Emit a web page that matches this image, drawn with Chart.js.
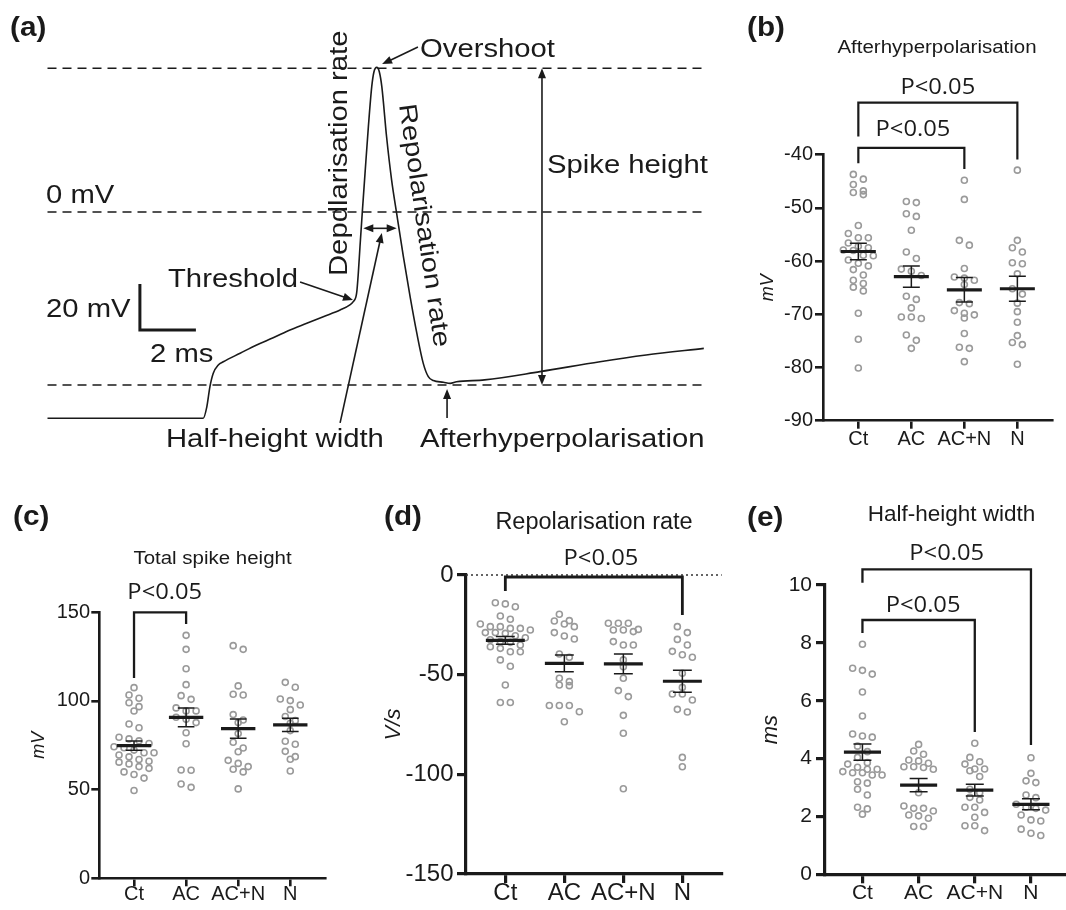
<!DOCTYPE html>
<html>
<head>
<meta charset="utf-8">
<script src="https://cdn.jsdelivr.net/npm/chart.js@4/dist/chart.umd.min.js"></script>
<style>
html, body { margin: 0; padding: 0; background: #fff; overflow: hidden; width: 1066px; height: 910px; }
.panel { position: absolute; }
canvas { display: block; }
</style>
</head>
<body>
<div class="panel" style="left:0;top:0"><canvas id="ca" width="730" height="460"></canvas></div>
<div class="panel" style="left:740px;top:0"><canvas id="cb" width="326" height="460"></canvas></div>
<div class="panel" style="left:0;top:490px"><canvas id="cc" width="380" height="420"></canvas></div>
<div class="panel" style="left:380px;top:490px"><canvas id="cd" width="360" height="420"></canvas></div>
<div class="panel" style="left:740px;top:490px"><canvas id="ce" width="333" height="420"></canvas></div>
<script>
const groups = ["Ct", "AC", "AC+N", "N"];

// (a) example spike, time in ms, membrane potential in mV
const traceMs = [0, 5.56, 5.69, 5.80, 5.92, 6.10, 6.28, 6.88, 7.47, 8.06, 8.66, 9.26, 9.85, 10.45, 10.80, 10.92,
  11.04, 11.10, 11.16, 11.24, 11.34, 11.46, 11.58, 11.66, 11.76, 11.85, 11.94, 12.11, 12.29, 12.47, 12.71, 12.95,
  13.19, 13.42, 13.60, 13.78, 14.14, 14.38, 14.61, 15.61, 17.59, 19.73, 21.38, 23.44];
const traceMv = [-89.7, -89.7, -84.7, -76.0, -70.1, -66.5, -65.1, -61.4, -57.8, -54.7, -51.3, -48.4, -45.5, -42.6, -40.4, -39.0,
  -35.3, -26.7, -15.1, -0.6, 16.8, 37.1, 54.5, 61.0, 62.9, 61.0, 54.5, 32.7, 13.9, -0.6, -19.4, -36.8,
  -52.7, -65.8, -71.6, -73.3, -74.0, -74.5, -73.8, -73.0, -69.4, -65.1, -62.2, -59.3];
const levelsMv = [62.5, 0, -75.2];          // overshoot, 0 mV, afterhyperpolarisation
const scaleBar = { ms: 2, mv: 20, x: 3.3, y: -51.3 };

// (b) afterhyperpolarisation, mV
const ahpCt = [-43.7, -44.6, -45.6, -46.8, -47.1, -47.5, -53.3, -54.8, -55.6, -55.6, -56.6, -57.2, -57.5, -57.9, -58.0,
  -58.9, -59.0, -59.8, -60.4, -60.9, -61.6, -62.6, -63.6, -64.2, -64.9, -65.6, -69.8, -74.7, -80.1];
const ahpAC = [-48.8, -49.0, -51.1, -51.6, -54.2, -58.3, -59.5, -61.5, -61.9, -62.7, -66.6, -67.2, -68.8, -70.5, -70.5,
  -70.8, -73.9, -74.9, -76.4];
const ahpACN = [-44.8, -48.4, -56.1, -57.0, -61.4, -63.0, -63.2, -63.6, -64.4, -67.8, -68.0, -69.3, -69.8, -70.1, -70.7,
  -73.6, -76.2, -76.4, -78.9];
const ahpN = [-42.9, -56.1, -57.5, -58.3, -60.3, -60.5, -62.4, -65.2, -66.2, -67.9, -69.5, -71.5, -74.0, -75.3, -75.7, -79.4];
const ahpMean = [-58.2, -62.9, -65.4, -65.2];
const ahpSem = [1.55, 2.0, 2.3, 2.35];
const ahpTicks = [-90, -80, -70, -60, -50, -40];

// (c) total spike height, mV
const htCt = [107.5, 103.4, 101.5, 99.0, 96.8, 94.3, 87.0, 84.9, 79.5, 78.6, 77.5, 76.0, 74.2, 73.6, 72.3, 70.8, 70.8,
  69.5, 68.5, 67.0, 66.0, 65.5, 64.5, 63.0, 62.0, 60.0, 58.5, 56.5, 49.5];
const htAC = [137.0, 129.1, 118.2, 109.2, 103.0, 100.9, 96.1, 94.4, 94.4, 90.8, 89.7, 87.8, 82.1, 75.9, 61.1, 60.9, 53.2, 51.3];
const htACN = [131.2, 129.1, 108.5, 103.8, 103.4, 92.3, 89.3, 87.8, 81.6, 76.7, 73.5, 71.4, 66.5, 64.8, 63.0, 61.5, 60.0, 50.4];
const htN = [110.5, 107.7, 101.1, 100.2, 97.7, 95.1, 91.2, 88.9, 87.4, 83.3, 77.3, 75.6, 71.6, 68.6, 67.1, 60.5];
const htMean = [74.8, 90.8, 84.4, 86.5];
const htSem = [2.65, 5.3, 5.4, 3.7];
const htTicks = [0, 50, 100, 150];

// (d) repolarisation rate, V/s
const repCt = [-13.9, -14.5, -15.9, -20.6, -22.2, -24.6, -25.9, -25.9, -26.8, -26.8, -27.6, -28.9, -28.9, -29.3, -30.5,
  -31.5, -32.5, -33.4, -33.8, -35.1, -36.0, -36.8, -38.5, -38.5, -42.6, -45.8, -55.2, -64.0, -64.0];
const repAC = [-19.7, -22.9, -23.1, -24.6, -25.9, -28.9, -30.6, -32.1, -39.6, -41.3, -51.8, -53.5, -55.2, -55.5, -65.5,
  -65.5, -65.5, -68.6, -73.6];
const repACN = [-24.2, -24.2, -24.2, -27.3, -27.6, -27.6, -28.4, -33.4, -35.1, -35.1, -42.6, -46.0, -51.8, -58.0, -61.0,
  -70.4, -79.4, -107.2];
const repN = [-25.9, -28.9, -32.3, -35.1, -38.3, -40.0, -41.3, -49.3, -56.4, -59.7, -59.7, -62.7, -67.4, -68.7, -91.5, -96.2];
const repMean = [-32.8, -44.3, -44.6, -53.3];
const repSem = [1.9, 4.2, 5.0, 5.5];
const repTicks = [-150, -100, -50, 0];

// (e) half-height width, ms
const hwCt = [7.95, 7.12, 7.05, 6.92, 6.30, 5.47, 4.85, 4.78, 4.74, 4.43, 4.24, 4.04, 3.86, 3.81, 3.70, 3.63, 3.63,
  3.55, 3.51, 3.51, 3.43, 3.43, 3.20, 3.15, 2.94, 2.74, 2.32, 2.26, 2.08];
const hwAC = [4.49, 4.26, 4.15, 3.95, 3.92, 3.84, 3.72, 3.72, 3.69, 3.63, 2.82, 2.36, 2.28, 2.28, 2.19, 2.05, 2.02, 1.94, 1.65, 1.65];
const hwACN = [4.53, 4.04, 3.89, 3.81, 3.64, 3.64, 3.58, 3.38, 2.94, 2.82, 2.66, 2.57, 2.32, 2.32, 2.14, 1.97, 1.68, 1.68, 1.51];
const hwN = [4.03, 3.49, 3.23, 3.17, 2.74, 2.65, 2.42, 2.32, 2.28, 2.22, 2.05, 1.88, 1.84, 1.56, 1.42, 1.34];
const hwMean = [4.22, 3.08, 2.91, 2.42];
const hwSem = [0.28, 0.23, 0.2, 0.19];
const hwTicks = [0, 2, 4, 6, 8, 10];

const INK = "#1a1a1a";
const DOT = "#9a9a9a";
const SANS = '"Liberation Sans", Arial, sans-serif';
const PFONT = '"Open Sans", sans-serif';
const BOLD = "bold 27px " + SANS;

function drawText(ctx, o, ox, oy) {
    ctx.save();
    ctx.font = o.font || "25px " + SANS;
    ctx.fillStyle = INK;
    ctx.textAlign = o.align || "left";
    ctx.textBaseline = o.base || "alphabetic";
    ctx.translate(o.x - ox, o.y - oy);
    if (o.rot) ctx.rotate(o.rot);
    ctx.scale(o.sx || 1, 1);
    ctx.fillText(o.t, 0, 0);
    ctx.restore();
}

function head(ctx, fx, fy, tx, ty) {
    const a = Math.atan2(ty - fy, tx - fx), L = 10, W = 4;
    ctx.beginPath();
    ctx.moveTo(tx, ty);
    ctx.lineTo(tx - L * Math.cos(a) + W * Math.sin(a), ty - L * Math.sin(a) - W * Math.cos(a));
    ctx.lineTo(tx - L * Math.cos(a) - W * Math.sin(a), ty - L * Math.sin(a) + W * Math.cos(a));
    ctx.closePath();
    ctx.fill();
}

// ---------- (a) ----------
const aArrows = [
    { from: [13.23, 71.7], to: [11.95, 64.3] },
    { from: [9.02, -30.4], to: [10.91, -38.3] },
    { from: [10.45, -91.7], to: [11.94, -9.1] },
    { from: [11.28, -7.1], to: [12.47, -7.1], both: true },
    { from: [14.27, -89.6], to: [14.27, -77.0] },
    { from: [17.66, 62.5], to: [17.66, -75.2], both: true }
];
const aTexts = [
    { t: "(a)", x: 10, y: 36, font: BOLD, sx: 1.1 },
    { t: "Overshoot", x: 420, y: 56.7, sx: 1.17 },
    { t: "Spike height", x: 547, y: 173.3, sx: 1.17 },
    { t: "0 mV", x: 46, y: 203.3, sx: 1.17 },
    { t: "Threshold", x: 168, y: 287.3, sx: 1.17 },
    { t: "20 mV", x: 46, y: 316.7, sx: 1.17 },
    { t: "2 ms", x: 150, y: 361.7, sx: 1.17 },
    { t: "Half-height width", x: 166, y: 446.7, sx: 1.17 },
    { t: "Afterhyperpolarisation", x: 420, y: 446.7, sx: 1.17 },
    { t: "Depdlarisation rate", x: 347, y: 276, rot: -Math.PI / 2, sx: 1.17 },
    { t: "Repolarisation rate", x: 399, y: 105, rot: 81.7 * Math.PI / 180, sx: 1.17 }
];

const traceExtras = {
    id: "traceExtras",
    afterDatasetsDraw(chart) {
        const { ctx, scales: { x, y } } = chart;
        ctx.save();
        ctx.strokeStyle = INK;
        ctx.fillStyle = INK;
        ctx.lineWidth = 1.6;
        aArrows.forEach(a => {
            const x1 = x.getPixelForValue(a.from[0]), y1 = y.getPixelForValue(a.from[1]);
            const x2 = x.getPixelForValue(a.to[0]), y2 = y.getPixelForValue(a.to[1]);
            const len = Math.hypot(x2 - x1, y2 - y1), ux = (x2 - x1) / len, uy = (y2 - y1) / len;
            const s = a.both ? 8 : 0;
            ctx.beginPath();
            ctx.moveTo(x1 + ux * s, y1 + uy * s);
            ctx.lineTo(x2 - ux * 8, y2 - uy * 8);
            ctx.stroke();
            head(ctx, x1, y1, x2, y2);
            if (a.both) head(ctx, x2, y2, x1, y1);
        });
        ctx.restore();
        aTexts.forEach(t => drawText(ctx, t, 0, 0));
    }
};

new Chart(document.getElementById("ca"), {
    type: "line",
    data: {
        datasets: [
            {
                data: traceMs.map((t, i) => ({ x: t, y: traceMv[i] })),
                borderColor: INK, borderWidth: 1.6, pointRadius: 0,
                cubicInterpolationMode: "monotone", clip: false
            },
            ...levelsMv.map(L => ({
                data: [{ x: traceMs[0], y: L }, { x: traceMs[traceMs.length - 1], y: L }],
                borderColor: INK, borderWidth: 1.5, borderDash: [9, 6], pointRadius: 0, clip: false
            })),
            {
                data: [
                    { x: scaleBar.x, y: scaleBar.y + scaleBar.mv },
                    { x: scaleBar.x, y: scaleBar.y },
                    { x: scaleBar.x + scaleBar.ms, y: scaleBar.y }
                ],
                borderColor: INK, borderWidth: 3, pointRadius: 0, borderJoinStyle: "miter", clip: false
            }
        ]
    },
    options: {
        responsive: false, animation: false, events: [],
        layout: { padding: { left: 19.5, top: 62.5, right: 10.5, bottom: 29.5 } },
        plugins: { legend: { display: false }, tooltip: { enabled: false } },
        scales: {
            x: { type: "linear", display: false, min: -1, max: 24 },
            y: { type: "linear", display: false, min: -95, max: 65 }
        }
    },
    plugins: [traceExtras]
});

// ---------- dot plots ----------
function swarm(vals, yScale, pxPerX) {
    const ROWH = 6.5, SP = 10;
    const order = vals.map((v, i) => i).sort((a, b) => vals[b] - vals[a]);
    const offs = new Array(vals.length).fill(0);
    let row = [], start = 0;
    const flush = () => {
        row.forEach((k, j) => { offs[k] = (j - (row.length - 1) / 2) * SP / pxPerX; });
        row = [];
    };
    order.forEach(k => {
        const py = yScale.getPixelForValue(vals[k]);
        if (row.length && py - start >= ROWH) flush();
        if (!row.length) start = py;
        row.push(k);
    });
    flush();
    return offs;
}

function dotExtras(o) {
    return {
        id: "dotExtras",
        afterDatasetsDraw(chart) {
            const { ctx, scales: { x, y } } = chart;
            const step = x.getPixelForValue(1) - x.getPixelForValue(0);
            ctx.save();
            ctx.strokeStyle = INK;
            o.mean.forEach((m, i) => {
                const cx = x.getPixelForValue(i);
                const hi = y.getPixelForValue(m + o.sem[i]), lo = y.getPixelForValue(m - o.sem[i]);
                const my = y.getPixelForValue(m);
                ctx.lineWidth = 1.5;
                ctx.beginPath();
                ctx.moveTo(cx, hi); ctx.lineTo(cx, lo);
                ctx.moveTo(cx - step * 0.16, hi); ctx.lineTo(cx + step * 0.16, hi);
                ctx.moveTo(cx - step * 0.16, lo); ctx.lineTo(cx + step * 0.16, lo);
                ctx.stroke();
                ctx.lineWidth = 3.2;
                ctx.beginPath();
                ctx.moveTo(cx - step * 0.33, my); ctx.lineTo(cx + step * 0.33, my);
                ctx.stroke();
            });
            ctx.lineWidth = o.blw;
            ctx.lineJoin = "miter";
            o.brackets.forEach(b => {
                const xa = x.getPixelForValue(b.a), xb = x.getPixelForValue(b.b);
                ctx.beginPath();
                ctx.moveTo(xa, y.getPixelForValue(b.la));
                ctx.lineTo(xa, y.getPixelForValue(b.top));
                ctx.lineTo(xb, y.getPixelForValue(b.top));
                ctx.lineTo(xb, y.getPixelForValue(b.lb));
                ctx.stroke();
                drawText(ctx, {
                    t: "P<0.05", x: x.getPixelForValue(b.tx), y: y.getPixelForValue(b.ty),
                    font: "21px " + PFONT, align: "center", base: "middle", sx: 1.13
                }, 0, 0);
            });
            ctx.restore();
            o.texts.forEach(t => drawText(ctx, t, o.ox, o.oy));
        }
    };
}

function dotChart(id, o) {
    const axisFont = { family: SANS, size: o.fs };
    const extra = o.zeroLine ? [{
        type: "line", data: [{ x: -2 / 3, y: 0 }, { x: 3 + 2 / 3, y: 0 }],
        borderColor: "#333", borderWidth: 1.6, borderDash: [2, 3], pointRadius: 0, clip: false
    }] : [];
    const chart = new Chart(document.getElementById(id), {
        type: "scatter",
        data: {
            datasets: [...extra, {
                data: [], pointStyle: "circle", pointRadius: 3, pointHoverRadius: 3,
                pointBorderWidth: 1.6, borderColor: DOT, backgroundColor: "rgba(255,255,255,0)", clip: false
            }]
        },
        options: {
            responsive: false, animation: false, events: [],
            layout: { padding: o.pad },
            plugins: { legend: { display: false }, tooltip: { enabled: false } },
            scales: {
                x: {
                    type: "linear", min: -2 / 3, max: 3 + 2 / 3,
                    afterBuildTicks: s => { s.ticks = groups.map((g, i) => ({ value: i })); },
                    afterFit: s => { s.height = o.hx; },
                    ticks: { callback: v => groups[v], font: axisFont, color: INK, padding: o.xpad, autoSkip: false, maxRotation: 0 },
                    grid: { drawOnChartArea: false, tickLength: o.tl, lineWidth: o.lw, color: INK },
                    border: { width: o.lw, color: INK }
                },
                y: {
                    type: "linear", min: o.ticks[0], max: o.ticks[o.ticks.length - 1],
                    afterBuildTicks: s => { s.ticks = o.ticks.map(v => ({ value: v })); },
                    afterFit: s => { s.width = o.wy; },
                    ticks: { font: axisFont, color: INK, padding: o.ypad },
                    grid: { drawOnChartArea: false, tickLength: o.tl, lineWidth: o.lw, color: INK },
                    border: { width: o.lw, color: INK },
                    title: { display: true, text: o.unit, color: INK, padding: 0, font: { family: SANS, size: o.ufs, style: "italic" } }
                }
            }
        },
        plugins: [dotExtras(o)]
    });
    const pxPerX = chart.scales.x.getPixelForValue(1) - chart.scales.x.getPixelForValue(0);
    const pts = [];
    o.series.forEach((vals, g) => {
        const offs = swarm(vals, chart.scales.y, pxPerX);
        vals.forEach((v, i) => pts.push({ x: g + offs[i], y: v }));
    });
    chart.data.datasets[chart.data.datasets.length - 1].data = pts;
    chart.update("none");
}

dotChart("cb", {
    ox: 740, oy: 0, series: [ahpCt, ahpAC, ahpACN, ahpN], mean: ahpMean, sem: ahpSem, ticks: ahpTicks, unit: "mV",
    pad: { left: 16.8, top: 154.7, right: 13.3, bottom: 0 }, wy: 66.2, hx: 39.3,
    fs: 20, ufs: 18, tl: 8, lw: 2.6, xpad: -1, ypad: 2, blw: 2.2,
    brackets: [
        { a: 0, b: 3, top: -30.2, la: -36.6, lb: -40.9, tx: 1.5, ty: -27.46 },
        { a: 0, b: 2, top: -38.7, la: -41.6, lb: -42.7, tx: 1.03, ty: -35.36 }
    ],
    texts: [
        { t: "(b)", x: 747, y: 36, font: BOLD, sx: 1.1 },
        { t: "Afterhyperpolarisation", x: 937, y: 53, font: "17.5px " + SANS, align: "center", sx: 1.17 }
    ]
});

dotChart("cc", {
    ox: 0, oy: 490, series: [htCt, htAC, htACN, htN], mean: htMean, sem: htSem, ticks: htTicks, unit: "mV",
    pad: { left: 27.8, top: 122.3, right: 55, bottom: 0 }, wy: 71.5, hx: 31.7,
    fs: 20, ufs: 18, tl: 8, lw: 2.6, xpad: -4, ypad: 1.3, blw: 2.3,
    brackets: [
        { a: 0, b: 1, top: 150, la: 113, lb: 143.4, tx: 0.59, ty: 160.9 }
    ],
    texts: [
        { t: "(c)", x: 13, y: 524.5, font: BOLD, sx: 1.1 },
        { t: "Total spike height", x: 212.5, y: 563.5, font: "17.5px " + SANS, align: "center", sx: 1.17 }
    ]
});

dotChart("cd", {
    ox: 380, oy: 490, series: [repCt, repAC, repACN, repN], mean: repMean, sem: repSem, ticks: repTicks, unit: "V/s",
    zeroLine: true,
    pad: { left: 0.3, top: 85, right: 18.3, bottom: 0 }, wy: 85.7, hx: 36,
    fs: 24, ufs: 22, tl: 9, lw: 3.2, xpad: -4, ypad: 3.5, blw: 2.8,
    brackets: [
        { a: 0, b: 3, top: -1.0, la: -8.0, lb: -20.1, tx: 1.62, ty: 8.03 }
    ],
    texts: [
        { t: "(d)", x: 384, y: 524.5, font: BOLD, sx: 1.1 },
        { t: "Repolarisation rate", x: 594, y: 528.5, font: "23.5px " + SANS, align: "center" }
    ]
});

dotChart("ce", {
    ox: 740, oy: 490, series: [hwCt, hwAC, hwACN, hwN], mean: hwMean, sem: hwSem, ticks: hwTicks, unit: "ms",
    pad: { left: 17.5, top: 95, right: 0, bottom: 0 }, wy: 67.5, hx: 35.7,
    fs: 21, ufs: 22, tl: 9, lw: 3.2, xpad: -3, ypad: 4, blw: 2.3,
    brackets: [
        { a: 0, b: 3, top: 10.54, la: 10.08, lb: 4.47, tx: 1.5, ty: 11.07 },
        { a: 0, b: 2, top: 8.79, la: 8.34, lb: 4.92, tx: 1.08, ty: 9.27 }
    ],
    texts: [
        { t: "(e)", x: 747, y: 526, font: BOLD, sx: 1.1 },
        { t: "Half-height width", x: 951.5, y: 521, font: "22.5px " + SANS, align: "center" }
    ]
});
</script>
</body>
</html>
